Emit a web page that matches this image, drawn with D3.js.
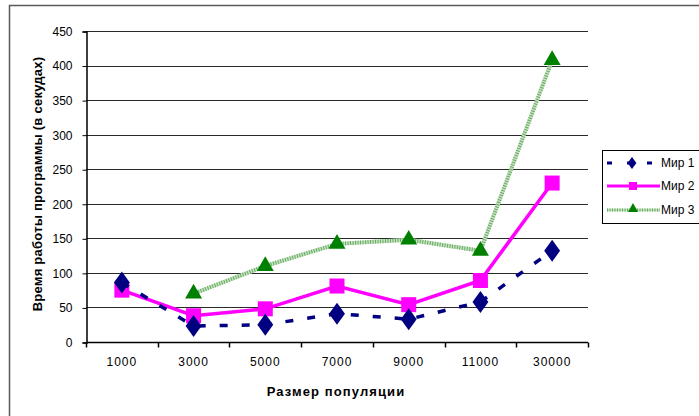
<!DOCTYPE html>
<html>
<head>
<meta charset="utf-8">
<script src="https://cdn.jsdelivr.net/npm/d3@7"></script>
<style>
  html, body { margin: 0; padding: 0; background: #fff; }
  svg { display: block; font-family: "Liberation Sans", Arial, sans-serif; }
</style>
</head>
<body>
<svg id="chart" width="699" height="416"></svg>
<script>
// Population sizes (categories) and run times in seconds per world
const categories = ["1000", "3000", "5000", "7000", "9000", "11000", "30000"];
const world1 = [86, 23, 25, 41, 33, 58, 132];
const world2 = [75, 38, 48, 81, 54, 89, 230];
const world3 = [null, 70, 110, 142, 148, 132, 408];
const yTicks = [0, 50, 100, 150, 200, 250, 300, 350, 400, 450];
const seriesNames = ["Мир 1", "Мир 2", "Мир 3"];

const svg = d3.select("#chart");

// Outer chart frame
svg.append("rect")
  .attr("x", 9.5).attr("y", 5.5)
  .attr("width", 720).attr("height", 430)
  .attr("fill", "#fff").attr("stroke", "#5a5a5a").attr("stroke-width", 1.5);

const plot = { left: 86, right: 588, top: 31, bottom: 342 };

const x = d3.scaleBand().domain(categories).range([plot.left, plot.right]);
const y = d3.scaleLinear().domain([0, 450]).range([plot.bottom, plot.top]);

// Horizontal gridlines
svg.append("g")
  .selectAll("line")
  .data(yTicks.filter(t => t > 0))
  .join("line")
  .attr("x1", plot.left).attr("x2", plot.right)
  .attr("y1", d => Math.round(y(d)) + 0.5).attr("y2", d => Math.round(y(d)) + 0.5)
  .attr("stroke", "#2a2a2a").attr("stroke-width", 1);

// Y axis
const yAxis = svg.append("g")
  .attr("transform", `translate(${plot.left + 0.5},0.5)`)
  .call(d3.axisLeft(y).tickValues(yTicks).tickSize(4).tickPadding(10));
yAxis.select(".domain").attr("stroke", "#000").attr("stroke-width", 1.5);
yAxis.selectAll(".tick line").attr("stroke", "#000");
yAxis.selectAll("text").attr("font-size", 12).attr("fill", "#000")
  .attr("font-family", "Liberation Sans, Arial, sans-serif");

// X axis with ticks at category boundaries
const xAxis = svg.append("g")
  .attr("transform", `translate(0,${plot.bottom + 0.5})`)
  .call(d3.axisBottom(x).tickSize(0).tickPadding(15));
xAxis.select(".domain").attr("stroke", "#000").attr("stroke-width", 1.5)
  .attr("d", `M${plot.left},0H${plot.right}`);
xAxis.selectAll("text").attr("font-size", 12).attr("fill", "#000")
  .attr("letter-spacing", "1px")
  .attr("font-family", "Liberation Sans, Arial, sans-serif");
const bounds = categories.map(c => x(c)).concat([x(categories[categories.length - 1]) + x.bandwidth()]);
xAxis.append("g").selectAll("line")
  .data(bounds)
  .join("line")
  .attr("x1", d => Math.round(d) + 0.5).attr("x2", d => Math.round(d) + 0.5)
  .attr("y1", 0).attr("y2", 5)
  .attr("stroke", "#000").attr("stroke-width", 1.5);

// Axis titles
svg.append("text")
  .attr("x", 336).attr("y", 396)
  .attr("text-anchor", "middle")
  .attr("font-size", 13).attr("font-weight", "bold")
  .attr("letter-spacing", "1.1px")
  .text("Размер популяции");
svg.append("text")
  .attr("transform", "translate(42,184) rotate(-90)")
  .attr("text-anchor", "middle")
  .attr("font-size", 13).attr("font-weight", "bold")
  .attr("letter-spacing", "0.25px")
  .text("Время работы программы (в секудах)");

const cx = (d, i) => x(categories[i]) + x.bandwidth() / 2;
const lineGen = d3.line()
  .defined(d => d != null)
  .x((d, i) => cx(d, i))
  .y(d => y(d));

// Мир 3: hatched light-green line with triangles
const g3 = svg.append("g");
g3.append("path").datum(world3).attr("d", lineGen)
  .attr("fill", "none").attr("stroke", "#c4e4bc").attr("stroke-width", 4);
g3.append("path").datum(world3).attr("d", lineGen)
  .attr("fill", "none").attr("stroke", "#6aa86a").attr("stroke-width", 4)
  .attr("stroke-dasharray", "1,1.5");
const tri = d3.symbol().type(d3.symbolTriangle).size(125);
g3.selectAll("path.m").data(world3.map((v, i) => ({ v, i })).filter(d => d.v != null))
  .join("path").attr("class", "m")
  .attr("d", tri)
  .attr("transform", d => `translate(${cx(null, d.i)},${y(d.v)})`)
  .attr("fill", "#008000");

// Мир 2: solid magenta line with squares
const g2 = svg.append("g");
g2.append("path").datum(world2).attr("d", lineGen)
  .attr("fill", "none").attr("stroke", "#ff00ff").attr("stroke-width", 3.5);
g2.selectAll("rect").data(world2)
  .join("rect")
  .attr("x", (d, i) => cx(d, i) - 7.5).attr("y", d => y(d) - 7.5)
  .attr("width", 15).attr("height", 15)
  .attr("fill", "#ff00ff");

// Мир 1: dashed navy line with diamonds
const g1 = svg.append("g");
g1.append("path").datum(world1).attr("d", lineGen)
  .attr("fill", "none").attr("stroke", "#000080").attr("stroke-width", 3.5)
  .attr("stroke-dasharray", "8,14");
const diamond = d3.symbol().type(d3.symbolDiamond).size(140);
g1.selectAll("path.m").data(world1)
  .join("path").attr("class", "m")
  .attr("d", diamond)
  .attr("transform", (d, i) => `translate(${cx(d, i)},${y(d)}) scale(1.25,1)`)
  .attr("fill", "#000080");

// Legend
const lg = svg.append("g").attr("transform", "translate(602,150)");
lg.append("rect").attr("x", 0.5).attr("y", 0.5).attr("width", 120).attr("height", 73)
  .attr("fill", "#fff").attr("stroke", "#000").attr("stroke-width", 1);
const rows = [13, 36, 60];
// Мир 1 sample
lg.append("line").attr("x1", 5).attr("x2", 58).attr("y1", rows[0]).attr("y2", rows[0])
  .attr("stroke", "#000080").attr("stroke-width", 3).attr("stroke-dasharray", "5,15");
lg.append("path").attr("d", d3.symbol().type(d3.symbolDiamond).size(40))
  .attr("transform", `translate(30,${rows[0]}) scale(1.3,1)`).attr("fill", "#000080");
// Мир 2 sample
lg.append("line").attr("x1", 5).attr("x2", 58).attr("y1", rows[1]).attr("y2", rows[1])
  .attr("stroke", "#ff00ff").attr("stroke-width", 3);
lg.append("rect").attr("x", 27).attr("y", rows[1] - 4).attr("width", 8).attr("height", 8)
  .attr("fill", "#ff00ff");
// Мир 3 sample
lg.append("line").attr("x1", 5).attr("x2", 58).attr("y1", rows[2]).attr("y2", rows[2])
  .attr("stroke", "#c4e4bc").attr("stroke-width", 3);
lg.append("line").attr("x1", 5).attr("x2", 58).attr("y1", rows[2]).attr("y2", rows[2])
  .attr("stroke", "#6aa86a").attr("stroke-width", 3).attr("stroke-dasharray", "1,1.5");
lg.append("path").attr("d", d3.symbol().type(d3.symbolTriangle).size(45))
  .attr("transform", `translate(31,${rows[2] - 1})`).attr("fill", "#008000");
lg.selectAll("text").data(seriesNames).join("text")
  .attr("x", 59).attr("y", (d, i) => rows[i] + 4)
  .attr("font-size", 12).attr("fill", "#000")
  .text(d => d);
</script>
</body>
</html>
